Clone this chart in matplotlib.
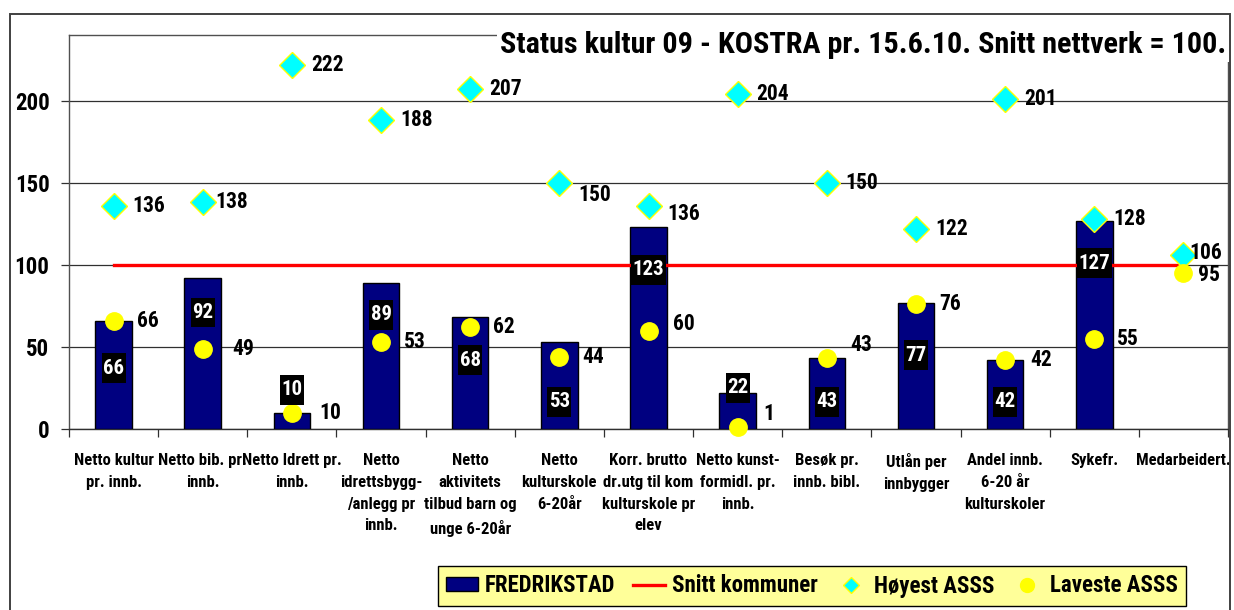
import numpy as np
import matplotlib as mpl

mpl.use("Agg")

import matplotlib.pyplot as plt
from matplotlib.patches import Rectangle, Patch
from matplotlib.lines import Line2D
from matplotlib.path import Path
from matplotlib import font_manager as fm

# ================================
# 数据
# ================================
categories = [
    "Netto kultur\npr. innb.",
    "Netto bib. pr.\ninnb.",
    "Netto Idrett pr.\ninnb.",
    "Netto\nidrettsbygg-\n/anlegg pr\ninnb.",
    "Netto\naktivitets\ntilbud barn og\nunge 6-20år",
    "Netto\nkulturskole\n6-20år",
    "Korr. brutto\ndr.utg til kom\nkulturskole pr\nelev",
    "Netto kunst-\nformidl. pr.\ninnb.",
    "Besøk pr.\ninnb. bibl.",
    "Utlån per\ninnbygger",
    "Andel innb.\n6-20 år\nkulturskoler",
    "Sykefr.",
    "Medarbeidert.",
]
fredrikstad = [66, 92, 10, 89, 68, 53, 123, 22, 43, 77, 42, 127, np.nan]
snitt = [100] * 13
hoyest = [136, 138, 222, 188, 207, 150, 136, 204, 150, 122, 201, 128, 106]
laveste = [66, 49, 10, 53, 62, 44, 60, 1, 43, 76, 42, 55, 95]

title = "Status kultur 09 - KOSTRA pr. 15.6.10. Snitt nettverk = 100."

# 柱内标签的位置 (手动摆放, 数据单位)
bar_label_y = [37, 71, 24, 69.5, 42, 16.5, 97, 25, 16.5, 45, 16.5, 101]

# 标记标签的偏移 (像素: 向右, 向下), 未列出的用默认值
HI_DX = 19
LO_DX = 23
hi_label_shift = {1: (13, 0), 5: (19, 12), 6: (19, 8), 12: (6, -2)}
lo_label_shift = {1: (30, 0), 2: (27, 0), 6: (25, -6), 7: (26, -13),
                  8: (23, -13), 10: (25, 0), 12: (15, 2)}

# ================================
# 样式: 窄体字
# ================================
installed = {f.name for f in fm.fontManager.ttflist}
candidates = ["Liberation Sans Narrow", "Arial Narrow", "Roboto Condensed",
              "IBM Plex Sans Condensed", "Open Sans Condensed", "Liberation Sans"]
narrow = [c for c in candidates if c in installed][0]
plt.rcParams["font.family"] = [narrow, "DejaVu Sans"]
plt.rcParams["font.weight"] = "bold"

NAVY = "#000080"
PX = 72 / 100  # 像素 -> 磅


def tall_box(x0, y0, width, height, mutation_size):
    """标签底框: 横向留白小, 纵向留白大 (类似 Excel 数据标签)"""
    px, py = 0.07 * mutation_size, 0.26 * mutation_size
    x0, y0 = x0 - px, y0 - py
    x1, y1 = x0 + width + 2 * px, y0 + height + 2 * py
    return Path([(x0, y0), (x1, y0), (x1, y1), (x0, y1), (x0, y0)], closed=True)


W, H = 1234, 610
fig = plt.figure(figsize=(W / 100, H / 100), dpi=100)
ax = fig.add_axes([69 / W, 1 - 429 / H, (1228 - 69) / W, (429 - 35) / H])

# 外框
fig.patches.append(Rectangle((10 / W, -0.05), 1220 / W, 1.05 - 14 / H,
                             transform=fig.transFigure, fill=False,
                             edgecolor="#404040", lw=1.4))

x = np.arange(len(categories))

ax.bar(x, fredrikstad, width=0.41, color=NAVY, edgecolor="black", lw=1.0, zorder=3)
ax.plot(x, snitt, color="red", lw=2.4, zorder=4)
ax.plot(x, hoyest, ls="none", marker="D", ms=13, mfc="#00FFFF", mec="#FFFF00",
        mew=1.0, zorder=5, clip_on=False)
ax.plot(x, laveste, ls="none", marker="o", ms=12.5, mfc="#FFFF00", mec="#FFFF00",
        zorder=6, clip_on=False)

# 柱内标签
for i, v in enumerate(fredrikstad[:-1]):
    ax.text(x[i], bar_label_y[i], f"{v:.0f}", color="white", fontsize=15,
            ha="center", va="center", zorder=7,
            bbox=dict(boxstyle=tall_box, fc="black", ec="none"))

# 标记标签
for i, v in enumerate(hoyest):
    dx, dy = hi_label_shift.get(i, (HI_DX, 0))
    ax.annotate(f"{v}", (x[i], v), xytext=(dx * PX, -dy * PX),
                textcoords="offset points", fontsize=15.5, ha="left",
                va="center", zorder=8, annotation_clip=False)
for i, v in enumerate(laveste):
    dx, dy = lo_label_shift.get(i, (LO_DX, 0))
    ax.annotate(f"{v}", (x[i], v), xytext=(dx * PX, -dy * PX),
                textcoords="offset points", fontsize=15.5, ha="left",
                va="center", zorder=8, annotation_clip=False)

# 坐标轴
ax.set_xlim(-0.5, len(categories) - 0.5)
ax.set_ylim(0, 240)
ax.set_yticks([0, 50, 100, 150, 200])
ax.yaxis.grid(True, color="#303030", lw=0.9, zorder=0)
ax.set_axisbelow(True)
ax.tick_params(axis="y", length=6, width=0.9, pad=8, labelsize=16.5, color="#303030")

ax.set_xticks(x)
ax.set_xticklabels(categories, fontsize=12, linespacing=1.58)
ax.set_xticks(np.arange(len(categories) + 1) - 0.5, minor=True)
ax.tick_params(axis="x", which="major", length=0, pad=17)
ax.tick_params(axis="x", which="minor", length=6, width=0.9, color="#303030")

for s in ax.spines.values():
    s.set_color("#505050")
    s.set_linewidth(1.0)
ax.spines["bottom"].set_color("#303030")

# 标题 (白底盖住上边框)
ax.text(1 - 2 / (1228 - 69), (429 - 45) / 394, title, transform=ax.transAxes,
        fontsize=21.7, ha="right", va="center", zorder=10,
        bbox=dict(boxstyle="square,pad=0.1", fc="white", ec="none"))

# 图例
handles = [
    Patch(facecolor=NAVY, edgecolor="black"),
    Line2D([], [], color="red", lw=2.4),
    Line2D([], [], ls="none", marker="D", ms=8, mfc="#00FFFF", mec="#FFFF00"),
    Line2D([], [], ls="none", marker="o", ms=10, mfc="#FFFF00", mec="#FFFF00"),
]
labels = ["FREDRIKSTAD", "Snitt kommuner", "Høyest ASSS", "Laveste ASSS"]
leg = fig.legend(handles, labels, ncol=4, loc="center",
                 bbox_to_anchor=(812 / W, 1 - 586 / H), fontsize=16.5,
                 frameon=True, fancybox=False, handlelength=1.4,
                 handleheight=0.55, handletextpad=0.3, columnspacing=0.75,
                 borderpad=0.35, borderaxespad=0)
leg.get_frame().set_facecolor("#FFFF99")
leg.get_frame().set_edgecolor("black")
leg.get_frame().set_linewidth(1.0)
leg.get_frame().set_alpha(1)

plt.savefig("out.png", dpi=100)
plt.close()
